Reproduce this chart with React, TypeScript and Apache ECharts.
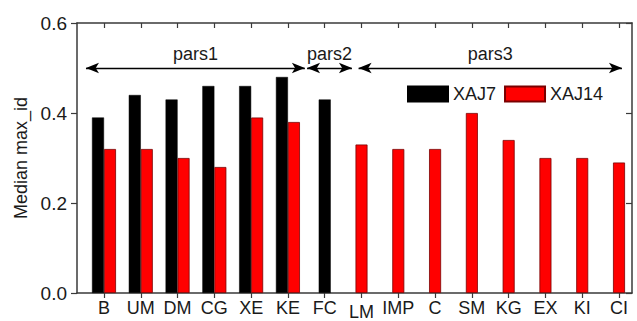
import React, { useEffect, useRef } from 'react';
import * as echarts from 'echarts';

const categories = ['B', 'UM', 'DM', 'CG', 'XE', 'KE', 'FC', 'LM', 'IMP', 'C', 'SM', 'KG', 'EX', 'KI', 'CI'];
const pairedCats = ['B', 'UM', 'DM', 'CG', 'XE', 'KE'];
const xaj7Paired = [0.39, 0.44, 0.43, 0.46, 0.46, 0.48];
const xaj14Paired = [0.32, 0.32, 0.30, 0.28, 0.39, 0.38];
const xaj7SingleCats = ['FC'];
const xaj7Single = [0.43];
const xaj14SingleCats = ['LM', 'IMP', 'C', 'SM', 'KG', 'EX', 'KI', 'CI'];
const xaj14Single = [0.33, 0.32, 0.32, 0.40, 0.34, 0.30, 0.30, 0.29];
const yTicks = [0, 0.2, 0.4, 0.6];
const groupNames = ['pars1', 'pars2', 'pars3'];
const groupFrom = [-0.49, 5.52, 6.92];
const groupTo = [5.46, 6.74, 14.08];
const groupLevel = 0.5;

const FONT = 'Arial, "Liberation Sans", sans-serif';
const AXIS_COLOR = '#3a3a3a';
const TEXT_COLOR = '#1a1a1a';

const idx = (c: string) => categories.indexOf(c);
const catIdx = categories.map((_, i) => i);

export default function App() {
  const ref = useRef<HTMLDivElement>(null);
  useEffect(() => {
    if (!ref.current) return;
    const chart = echarts.init(ref.current, null, { renderer: 'svg' });
    const xMin = -0.734;
    const xMax = 14.353;
    const axisLine = { show: true, onZero: false, lineStyle: { color: AXIS_COLOR, width: 1.5 } };
    chart.setOption({
      animation: false,
      backgroundColor: '#ffffff',
      grid: { left: 77, right: 5, top: 23, bottom: 24 },
      legend: {
        left: 407,
        top: 85,
        padding: 0,
        itemWidth: 40,
        itemHeight: 15,
        itemGap: 8,
        icon: 'rect',
        data: ['XAJ7', 'XAJ14'],
        textStyle: { fontFamily: FONT, fontSize: 18, color: TEXT_COLOR },
      },
      xAxis: [
        {
          type: 'value',
          position: 'bottom',
          min: xMin,
          max: xMax,
          axisLine,
          splitLine: { show: false },
          axisTick: { show: true, inside: false, length: 5, customValues: catIdx, lineStyle: { color: AXIS_COLOR, width: 1.2 } },
          axisLabel: {
            show: true,
            customValues: catIdx,
            margin: 6,
            fontFamily: FONT,
            fontSize: 18,
            color: TEXT_COLOR,
            formatter: (v: number) => {
              const c = categories[Math.round(v)] ?? '';
              return c === 'LM' ? '{low|' + c + '}' : c;
            },
            rich: { low: { fontFamily: FONT, fontSize: 18, color: TEXT_COLOR, padding: [4, 0, 0, 0] } },
          },
        },
        {
          type: 'value',
          position: 'top',
          min: xMin,
          max: xMax,
          axisLine,
          splitLine: { show: false },
          axisTick: { show: true, inside: true, length: 5, customValues: catIdx, lineStyle: { color: AXIS_COLOR, width: 1.2 } },
          axisLabel: { show: false },
        },
      ],
      yAxis: [
        {
          type: 'value',
          position: 'left',
          min: 0,
          max: 0.6,
          interval: 0.2,
          name: 'Median max_id',
          nameLocation: 'middle',
          nameGap: 47,
          nameTextStyle: { fontFamily: FONT, fontSize: 18, color: TEXT_COLOR },
          axisLine,
          splitLine: { show: false },
          axisTick: { show: true, inside: false, length: 6, customValues: yTicks, lineStyle: { color: AXIS_COLOR, width: 1.2 } },
          axisLabel: {
            fontFamily: FONT,
            fontSize: 19,
            color: TEXT_COLOR,
            margin: 10,
            formatter: (v: number) => v.toFixed(1),
          },
        },
        {
          type: 'value',
          position: 'right',
          min: 0,
          max: 0.6,
          interval: 0.2,
          axisLine,
          splitLine: { show: false },
          axisTick: { show: true, inside: true, length: 6, lineStyle: { color: AXIS_COLOR, width: 1.2 } },
          axisLabel: { show: false },
        },
      ],
      series: [
        {
          name: 'XAJ7',
          type: 'bar',
          xAxisIndex: 0,
          yAxisIndex: 0,
          barWidth: 12,
          barGap: 0,
          itemStyle: { color: '#000000', borderColor: '#000000', borderWidth: 0.5 },
          data: pairedCats.map((c, i) => [idx(c), xaj7Paired[i]]),
        },
        {
          name: 'XAJ14',
          type: 'bar',
          xAxisIndex: 0,
          yAxisIndex: 0,
          barWidth: 12,
          barGap: 0,
          itemStyle: { color: '#ff0000', borderColor: '#7a0000', borderWidth: 0.8 },
          data: pairedCats.map((c, i) => [idx(c), xaj14Paired[i]]),
        },
        {
          name: 'XAJ7',
          type: 'bar',
          xAxisIndex: 1,
          yAxisIndex: 0,
          barWidth: 12,
          barGap: '-100%',
          itemStyle: { color: '#000000', borderColor: '#000000', borderWidth: 0.5 },
          data: xaj7SingleCats.map((c, i) => [idx(c), xaj7Single[i]]),
        },
        {
          name: 'XAJ14',
          type: 'bar',
          xAxisIndex: 1,
          yAxisIndex: 0,
          barWidth: 12,
          barGap: '-100%',
          itemStyle: { color: '#ff0000', borderColor: '#7a0000', borderWidth: 0.8 },
          data: xaj14SingleCats.map((c, i) => [idx(c), xaj14Single[i]]),
          markLine: {
            silent: true,
            symbol: ['arrow', 'arrow'],
            symbolSize: [8, 13],
            lineStyle: { color: '#000000', width: 1.3, type: 'solid' },
            label: {
              show: true,
              position: 'middle',
              formatter: '{b}',
              fontFamily: FONT,
              fontSize: 18,
              color: TEXT_COLOR,
              distance: 5,
            },
            data: groupNames.map((n, i) => [
              { name: n, coord: [groupFrom[i], groupLevel] },
              { coord: [groupTo[i], groupLevel] },
            ]),
          },
        },
      ],
    });
    return () => chart.dispose();
  }, []);
  return <div ref={ref} style={{ width: 637, height: 321, position: 'absolute', left: 0, top: 0 }} />;
}
